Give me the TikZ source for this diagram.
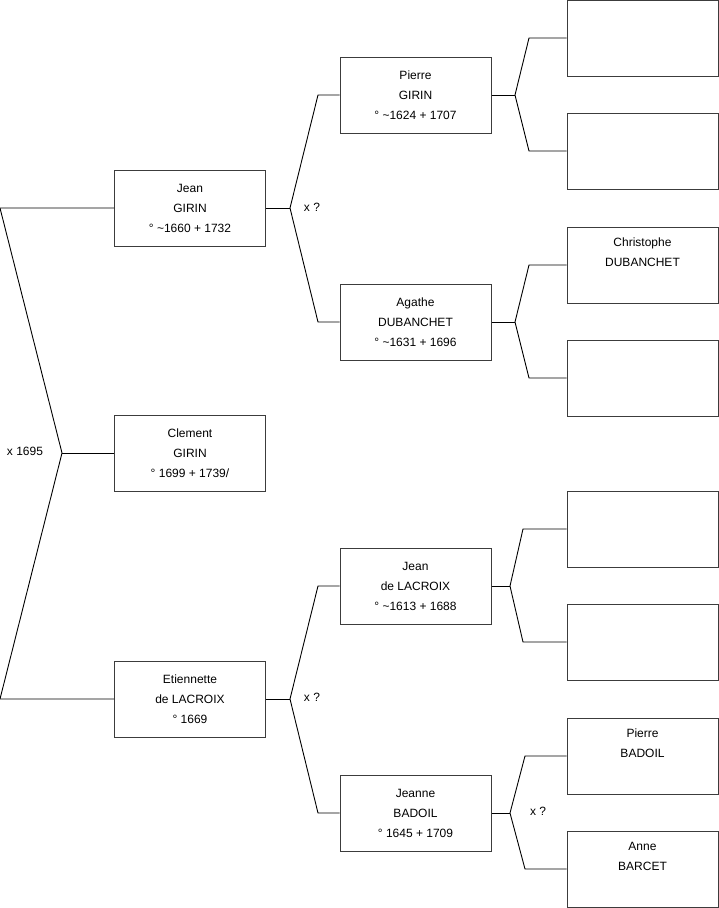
\documentclass[tikz,border=0pt]{standalone}
\usepackage{fontspec}
\setmainfont{Liberation Sans}
\usepackage{xcolor}
\usepackage{tikz}
\definecolor{boxline}{RGB}{60,60,60}

\begin{document}
\begin{tikzpicture}[
    x=1pt, y=-1pt,
    person/.style={
        rectangle,
        draw=boxline,
        line width=1pt,
        align=center,
        minimum width=151pt,
        minimum height=76pt,
        inner sep=0pt,
        font=\fontsize{12}{20}\selectfont
    },
    link/.style={draw=black, line width=0.9pt},
    union/.style={font=\fontsize{12}{14}\selectfont, inner sep=0pt}
]
\useasboundingbox (0,0) rectangle (719,908);

% generation 1
\node[person] (clement) at (190,453) {Clement\\GIRIN\\° 1699 + 1739/};

% generation 2
\node[person] (jean) at (190,208) {Jean\\GIRIN\\° \textasciitilde1660 + 1732};
\node[person] (etiennette) at (190,699) {Etiennette\\de LACROIX\\° 1669};

% generation 3
\node[person] (pierre) at (415.5,95) {Pierre\\GIRIN\\° \textasciitilde1624 + 1707};
\node[person] (agathe) at (415.5,322) {Agathe\\DUBANCHET\\° \textasciitilde1631 + 1696};
\node[person] (jeanL) at (415.5,586) {Jean\\de LACROIX\\° \textasciitilde1613 + 1688};
\node[person] (jeanne) at (415.5,813) {Jeanne\\BADOIL\\° 1645 + 1709};

% generation 4
\node[person] (pierreF) at (642.5,38) {};
\node[person] (pierreM) at (642.5,151) {};
\node[person] (agatheF) at (642.5,265) {Christophe\\DUBANCHET\\\strut};
\node[person] (agatheM) at (642.5,378) {};
\node[person] (jeanLF) at (642.5,529) {};
\node[person] (jeanLM) at (642.5,642) {};
\node[person] (jeanneF) at (642.5,756) {Pierre\\BADOIL\\\strut};
\node[person] (jeanneM) at (642.5,869) {Anne\\BARCET\\\strut};

% fork points
\coordinate (rootUp) at (0,208);
\coordinate (rootDn) at (0,699);
\coordinate (rootFork) at (62,453);

\coordinate (jeanFork) at (290,208);
\coordinate (jeanUp) at (318,95);
\coordinate (jeanDn) at (318,322);

\coordinate (etiFork) at (290,699);
\coordinate (etiUp) at (318,586);
\coordinate (etiDn) at (318,813);

\coordinate (pierreFork) at (515,95);
\coordinate (pierreUp) at (529,38);
\coordinate (pierreDn) at (529,151);

\coordinate (agatheFork) at (515,322);
\coordinate (agatheUp) at (529,265);
\coordinate (agatheDn) at (529,378);

\coordinate (jeanLFork) at (510,586);
\coordinate (jeanLUp) at (523,529);
\coordinate (jeanLDn) at (523,642);

\coordinate (jeanneFork) at (510,813);
\coordinate (jeanneUp) at (525,756);
\coordinate (jeanneDn) at (525,869);

% connectors
\draw[link] (jean.west) -- (rootUp) -- (rootFork) -- (rootDn) -- (etiennette.west);
\draw[link] (rootFork) -- (clement.west);

\draw[link] (jean.east) -- (jeanFork);
\draw[link] (pierre.west) -- (jeanUp) -- (jeanFork) -- (jeanDn) -- (agathe.west);

\draw[link] (etiennette.east) -- (etiFork);
\draw[link] (jeanL.west) -- (etiUp) -- (etiFork) -- (etiDn) -- (jeanne.west);

\draw[link] (pierre.east) -- (pierreFork);
\draw[link] (pierreF.west) -- (pierreUp) -- (pierreFork) -- (pierreDn) -- (pierreM.west);

\draw[link] (agathe.east) -- (agatheFork);
\draw[link] (agatheF.west) -- (agatheUp) -- (agatheFork) -- (agatheDn) -- (agatheM.west);

\draw[link] (jeanL.east) -- (jeanLFork);
\draw[link] (jeanLF.west) -- (jeanLUp) -- (jeanLFork) -- (jeanLDn) -- (jeanLM.west);

\draw[link] (jeanne.east) -- (jeanneFork);
\draw[link] (jeanneF.west) -- (jeanneUp) -- (jeanneFork) -- (jeanneDn) -- (jeanneM.west);

% marriages
\node[union] (marRoot) at (25,451) {x 1695};
\node[union] (marJean) at (312,207) {x ?};
\node[union] (marEti) at (312,697) {x ?};
\node[union] (marJeanne) at (538,811) {x ?};

\end{tikzpicture}
\end{document}
